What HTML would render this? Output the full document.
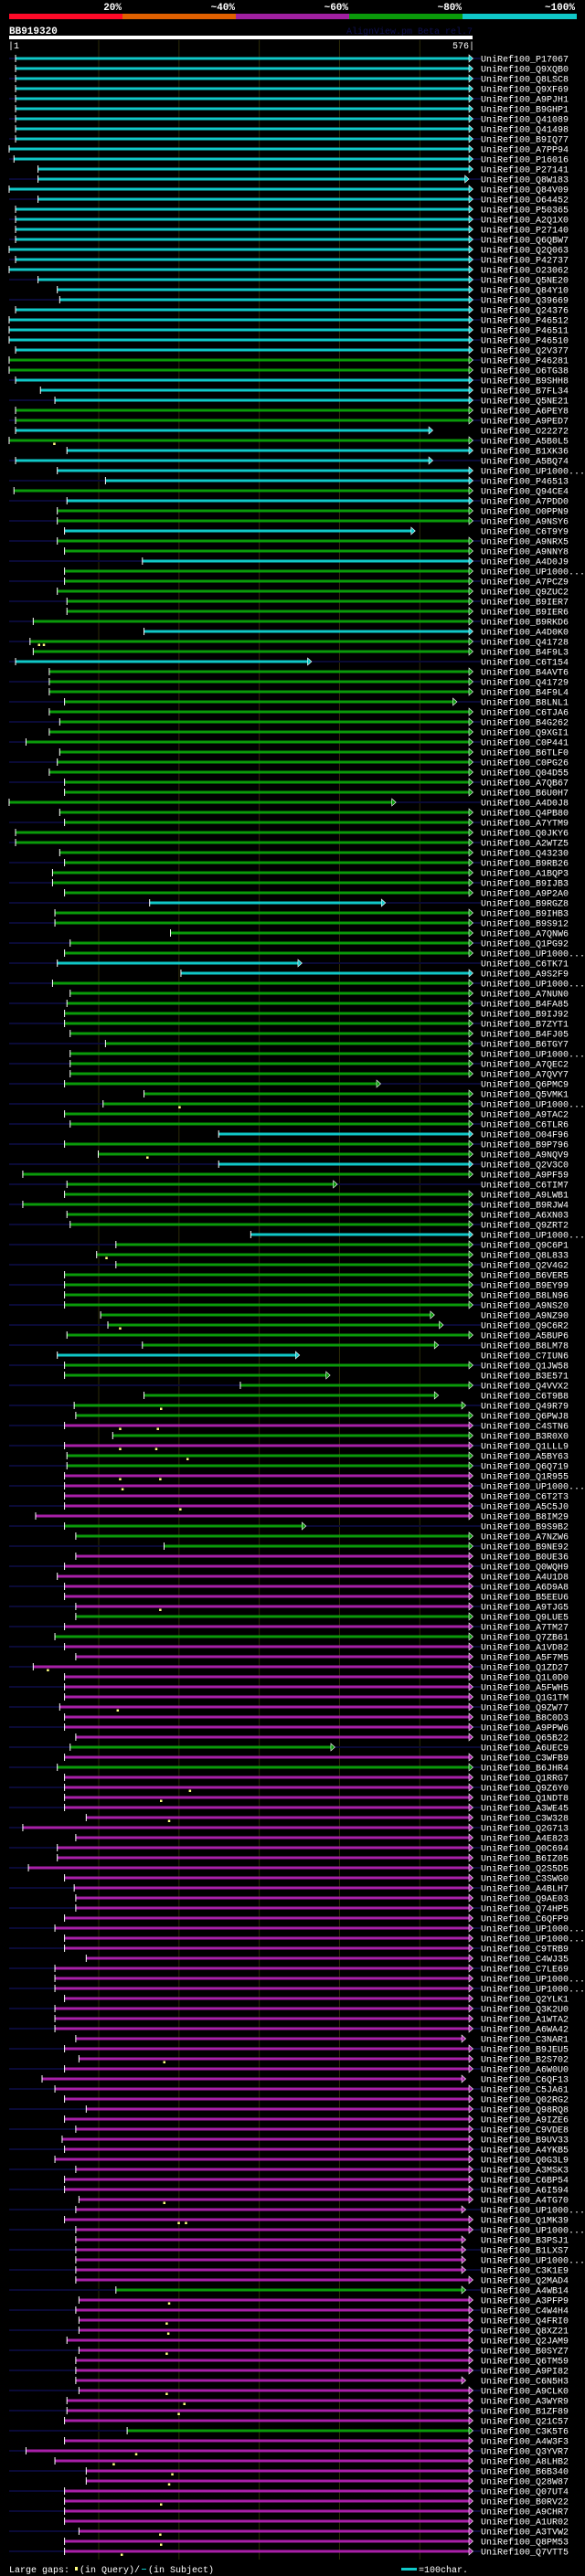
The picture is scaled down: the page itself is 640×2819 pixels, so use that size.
<!DOCTYPE html>
<html><head><meta charset="utf-8"><style>
html,body{margin:0;padding:0;background:#000;}
svg{display:block;}
text{font-family:"Liberation Mono",monospace;}
</style></head><body>
<svg id="chart" width="640" height="2819" viewBox="0 0 640 2819" xmlns="http://www.w3.org/2000/svg">
<rect x="0" y="0" width="640" height="2819" fill="#000"/>
<g>
<rect x="10" y="15" width="124" height="6" fill="#ff0a28"/>
<rect x="134" y="15" width="124" height="6" fill="#e06000"/>
<rect x="258" y="15" width="124" height="6" fill="#a020a0"/>
<rect x="382" y="15" width="124" height="6" fill="#0a9a0a"/>
<rect x="506" y="15" width="125" height="6" fill="#10c8c8"/>
<text x="133" y="11" fill="#fff" font-size="11" font-weight="bold" text-anchor="end">20%</text>
<text x="257" y="11" fill="#fff" font-size="11" font-weight="bold" text-anchor="end">~40%</text>
<text x="381" y="11" fill="#fff" font-size="11" font-weight="bold" text-anchor="end">~60%</text>
<text x="505" y="11" fill="#fff" font-size="11" font-weight="bold" text-anchor="end">~80%</text>
<text x="629" y="11" fill="#fff" font-size="11" font-weight="bold" text-anchor="end">~100%</text>
</g>
<text x="10" y="37" fill="#fff" font-size="11" font-weight="bold">BB919320</text>
<text x="517" y="37" fill="#101050" font-size="10" text-anchor="end">AlignView.pm Beta rel.7</text>
<rect x="10" y="39" width="507" height="4" fill="#fff"/>
<text x="9" y="53" fill="#fff" font-size="10">|1</text>
<text x="519" y="53" fill="#fff" font-size="10" text-anchor="end">576|</text>
<g id="grid"></g>
<g id="rows"></g>
<g>
<text x="10" y="2815" fill="#fff" font-size="10">Large gaps:</text>
<rect x="82" y="2809" width="3" height="4" fill="#ffff80"/>
<text x="87" y="2815" fill="#fff" font-size="10">(in Query)/</text>
<rect x="155" y="2811" width="5" height="1" fill="#10c8c8"/>
<text x="162" y="2815" fill="#fff" font-size="10">(in Subject)</text>
<rect x="439" y="2810" width="17" height="3" fill="#10c8c8"/>
<text x="458" y="2815" fill="#fff" font-size="10">=100char.</text>
</g>
</svg>
<script>
const gridPos = [112, 212, 312, 412, 512];
const starts = [9,9,9,9,9,9,9,9,9,1,7,37,37,1,37,9,9,9,9,1,9,1,37,61,64,
9,1,1,1,9,1,1,9,40,58,9,9,9,1,73,9,61,121,7,73,61,61,70,61,70,
167,70,70,61,73,73,31,169,27,31,9,51,51,51,70,51,64,51,22,64,61,51,70,70,1,
64,70,9,9,64,70,55,55,70,176,58,58,202,77,70,61,215,55,77,73,70,70,77,121,77,
77,77,70,169,118,70,77,262,70,112,262,18,73,70,18,73,77,302,134,110,134,70,70,70,70,
115,124,73,167,61,70,70,289,169,82,84,70,130,70,73,73,70,70,70,70,34,70,84,194,84,
70,61,70,70,84,84,70,58,70,84,31,70,70,70,64,70,70,84,77,70,61,70,70,70,70,
97,18,84,61,61,25,70,82,84,84,70,58,70,70,97,58,58,58,70,58,58,58,84,70,88,
70,42,58,70,97,70,84,67,70,58,84,70,70,88,84,70,84,84,84,84,84,84,134,88,84,
88,88,73,88,84,84,84,88,73,73,70,148,70,22,58,
97,97,70,70,70,70,88,70,70];
const endRows = [12,37,40,47,60,64,74,84,90,102,112,125,126,128,129,131,133,134,146,168,197,201,214,217,218,219,220,222,231];
const endVals = [571,526,526,504,375,556,480,467,363,461,407,528,539,533,360,398,533,567,368,404,567,567,567,567,567,567,567,567,567];
const colorCodes = "CCCCCCCCCCCCCCCCCCCCCCCCC" +
"CCCCCGGCCCGGCGCCCCGCGGCGG" +
"CGGGGGGCGGCGGGGGGGGGGGGGG" +
"GGGGGGGGGCGGGGGCCGGGGGGGG" +
"GGGGGGGCGGCGGGGGGCGGGGGGG" +
"GGGGCGGGGGGMGMGGMMMMMGGGM" +
"MMMMMGMGMMMMMMMMMMGMGMMMM" +
"MMMMMMMMMMMMMMMMMMMMMMMMM" +
"MMMMMMMMMMMMMMMMMMMMMMGMM" +
"MMMMMMMMMMMGMMM" +
"MMMMMMMMM";
const markerRows = [38,58,58,104,109,119,126,134,136,136,138,138,139,141,141,142,144,154,160,164,172,173,175,199,213,215,215,223,225,226,228,232,233,234,238,239,240,241,243,246,247,248];
const markerPos = [57,38,44,213,173,122,139,190,139,186,139,184,223,139,189,142,214,189,49,136,226,190,200,194,194,212,221,200,197,199,197,197,219,212,159,131,204,200,190,189,190,141];
const labels = ["P17067","Q9XQB0","Q8LSC8","Q9XF69","A9PJH1","B9GHP1","Q41089","Q41498","B9IQ77","A7PP94",
"P16016","P27141","Q8W183","Q84V09","O64452","P50365","A2Q1X0","P27140","Q6QBW7","Q2Q063",
"P42737","O23062","Q5NE20","Q84Y10","Q39669","Q24376","P46512","P46511","P46510","Q2V377",
"P46281","O6TG38","B9SHH8","B7FL34","Q5NE21","A6PEY8","A9PED7","O22272","A5B0L5","B1XK36",
"A5BQ74","UP1000...","P46513","Q94CE4","A7PDD0","O0PPN9","A9NSY6","C6T9Y9","A9NRX5","A9NNY8",
"A4D0J9","UP1000...","A7PCZ9","Q9ZUC2","B9IER7","B9IER6","B9RKD6","A4D0K0","Q41728","B4F9L3",
"C6T154","B4AVT6","Q41729","B4F9L4","B8LNL1","C6TJA6","B4G262","Q9XGI1","C0P441","B6TLF0",
"C0PG26","Q04D55","A7QB67","B6U0H7","A4D0J8","Q4PB80","A7YTM9","Q0JKY6","A2WTZ5","Q43230",
"B9RB26","A1BQP3","B9IJB3","A9P2A0","B9RGZ8","B9IHB3","B9S912","A7QNW6","Q1PG92","UP1000...",
"C6TK71","A9S2F9","UP1000...","A7NUN0","B4FA85","B9IJ92","B7ZYT1","B4FJ05","B6TGY7","UP1000...",
"A7QEC2","A7QVY7","Q6PMC9","Q5VMK1","UP1000...","A9TAC2","C6TLR6","O04F96","B9P796","A9NQV9",
"Q2V3C0","A9PF59","C6TIM7","A9LWB1","B9RJW4","A6XN03","Q9ZRT2","UP1000...","Q9C6P1","Q8L833",
"Q2V4G2","B6VER5","B9EY99","B8LN96","A9NS20","A9NZ90","Q9C6R2","A5BUP6","B8LM78","C7IUN6",
"Q1JW58","B3E571","Q4VVX2","C6T9B8","Q49R79","Q6PWJ8","C4STN6","B3R0X0","Q1LLL9","A5BY63",
"Q6Q719","Q1R955","UP1000...","C6T2T3","A5C5J0","B8IM29","B9S9B2","A7NZW6","B9NE92","B0UE36",
"Q0WQH9","A4U1D8","A6D9A8","B5EEU6","A9TJG5","Q9LUE5","A7TM27","Q7ZB61","A1VD82","A5F7M5",
"Q1ZD27","Q1L0D0","A5FWH5","Q1G1TM","Q9ZW77","B8C0D3","A9PPW6","Q65B22","A6UEC9","C3WFB9",
"B6JHR4","Q1RRG7","Q9Z6Y0","Q1NDT8","A3WE45","C3W328","Q2G713","A4E823","Q0C694","B6IZ05",
"Q2S5D5","C3SWG0","A4BLH7","Q9AE03","Q74HP5","C6QFP9","UP1000...","UP1000...","C9TRB9","C4WJ35",
"C7LE69","UP1000...","UP1000...","Q2YLK1","Q3K2U0","A1WTA2","A6WA42","C3NAR1","B9JEU5","B2S702",
"A6W0U0","C6QF13","C5JA61","Q02RG2","Q98RQ8","A9IZE6","C9VDE8","B9UV33","A4YKB5","Q0G3L9",
"A3MSK3","C6BP54","A6I594","A4TG70","UP1000...","Q1MK39","UP1000...","B3PSJ1","B1LXS7","UP1000...",
"C3K1E9","Q2MAD4","A4WB14","A3PFP9","C4W4H4","Q4FRI0","Q8XZ21","Q2JAM9","B0SYZ7","Q6TM59",
"A9PI82","C6N5H3","A9CLK0","A3WYR9","B1ZF89","Q21C57","C3K5T6","A4W3F3","Q3YVR7","A8LHB2",
"B6B340","Q28W87","Q07UT4","B0RV22","A9CHR7","A1UR02","A3TVW2","Q8PM53","Q7VTT5"];

const NS = "http://www.w3.org/2000/svg";
const QLEN = 576;
function xs(p){ return 10 + (p - 1) * 505 / (QLEN - 1); }
function ys(i){ return 64 + i * 11; }
const palette = {C:"#10c8c8", G:"#0a9a0a", M:"#a820a8"};
function mk(tag, attrs, parent){
  const el = document.createElementNS(NS, tag);
  for (const k in attrs) el.setAttribute(k, attrs[k]);
  parent.appendChild(el);
  return el;
}
const grid = document.getElementById("grid");
gridPos.forEach(function(p){
  const l = mk("rect", {x: xs(p), y: 44, width: 1, height: 2757, fill: "#2c2c08"}, grid);
  
  
});
const rows = document.getElementById("rows");
const ends = starts.map(function(){ return QLEN; });
endRows.forEach(function(r, k){ ends[r] = endVals[k]; });
for (let i = 0; i < starts.length; i++){
  const cy = ys(i);
  const g = mk("g", {}, rows);
  
  
  if (i % 2 === 0){
    const s = mk("rect", {x: 10, y: cy - 1, width: 516, height: 2, fill: "#0a0a36"}, g);
    
    
  }
  const col = palette[colorCodes[i]] || palette.M;
  const x0 = xs(starts[i]), x1 = xs(ends[i]);
  const b = mk("rect", {x: x0, y: cy - 1.5, width: Math.max(0, x1 - 2 - x0), height: 3, fill: col}, g);
  
  
  const t = mk("rect", {x: x0 - 0.5, y: cy - 4, width: 1, height: 8, fill: "#fff"}, g);
  
  
  const a = mk("polygon", {points: (x1-2)+","+(cy-4)+" "+(x1+2.5)+","+cy+" "+(x1-2)+","+(cy+4), fill: col, stroke: "#fff", "stroke-width": 0.6}, g);
  
  
  const tx = mk("text", {x: 526, y: cy + 3.5, fill: "#fff", "font-size": 10}, g);
  tx.textContent = "UniRef100_" + labels[i];
  
  
}
markerRows.forEach(function(r, k){
  const x = xs(markerPos[k]), cy = ys(r);
  const m = mk("rect", {x: x - 1, y: cy + 2.5, width: 2.5, height: 2.5, fill: "#ffff80"}, rows);
  
  
});
</script>
</body></html>
